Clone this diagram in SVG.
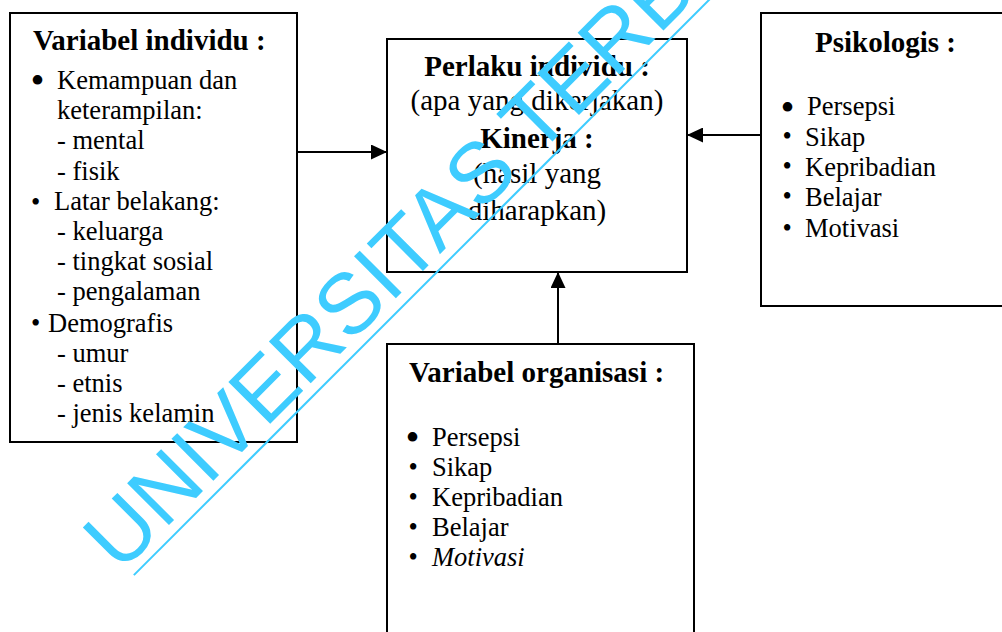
<svg xmlns="http://www.w3.org/2000/svg" width="1002" height="632" viewBox="0 0 1002 632">
  <defs>
    <style>
      .box { fill: #fff; stroke: #000; stroke-width: 2; }
      .t { font-family: "Liberation Serif", "Times New Roman", serif; fill: #000; font-size: 26.5px; }
      .b { font-weight: bold; font-size: 29px; }
      .c { font-size: 29px; text-anchor: middle; }
      .blt { font-family: "Liberation Serif", "Times New Roman", serif; fill: #000; font-size: 26.5px; }
      .bltL { font-size: 40px; }
      .wire { stroke: #000; stroke-width: 2; fill: none; marker-end: url(#arrow); }
      .wm { font-family: "Liberation Sans", Arial, sans-serif; font-size: 86px; fill: #3ECCFF; }
    </style>
    <marker id="arrow" markerUnits="userSpaceOnUse" markerWidth="16" markerHeight="15" refX="16" refY="7.5" orient="auto">
      <path d="M0,0 L16,7.5 L0,15 Z" fill="#000"/>
    </marker>
  </defs>

  <rect width="1002" height="632" fill="#fff"/>

  <!-- connectors -->
  <g id="connectors">
    <line class="wire" x1="297" y1="152" x2="387" y2="152"/>
    <line class="wire" x1="761" y1="135" x2="687" y2="135"/>
    <line class="wire" x1="558" y1="344" x2="558" y2="272"/>
  </g>

  <!-- individual variables -->
  <g id="variabel-individu">
    <rect class="box" x="10" y="13" width="287" height="429"/>
    <text class="t b" x="33" y="50">Variabel individu :</text>
    <text class="blt bltL" x="30.5" y="94">•</text>
    <text class="t" x="57" y="89">Kemampuan dan</text>
    <text class="t" x="57" y="119">keterampilan:</text>
    <text class="t" x="57" y="149">- mental</text>
    <text class="t" x="57" y="180">- fisik</text>
    <text class="blt" x="31" y="210.5">•</text>
    <text class="t" x="54" y="210">Latar belakang:</text>
    <text class="t" x="57" y="240">- keluarga</text>
    <text class="t" x="57" y="270">- tingkat sosial</text>
    <text class="t" x="57" y="300">- pengalaman</text>
    <text class="blt" x="31" y="331.5">•</text>
    <text class="t" x="48" y="332">Demografis</text>
    <text class="t" x="57" y="362">- umur</text>
    <text class="t" x="57" y="392">- etnis</text>
    <text class="t" x="57" y="422">- jenis kelamin</text>
  </g>

  <!-- behaviour / performance -->
  <g id="perlaku-individu">
    <rect class="box" x="387" y="39" width="300" height="233"/>
    <text class="t c b" x="537" y="76">Perlaku individu :</text>
    <text class="t c" x="537" y="110">(apa yang dikerjakan)</text>
    <text class="t c b" x="537" y="148">Kinerja :</text>
    <text class="t c" x="537" y="183">(hasil yang</text>
    <text class="t c" x="537" y="220">diharapkan)</text>
  </g>

  <!-- psychological variables -->
  <g id="psikologis">
    <rect class="box" x="761" y="13" width="260" height="293"/>
    <text class="t b" x="815" y="52">Psikologis :</text>
    <text class="blt bltL" x="780.5" y="121">•</text>
    <text class="t" x="807" y="115">Persepsi</text>
    <text class="blt" x="782.5" y="145">•</text>
    <text class="t" x="805" y="146">Sikap</text>
    <text class="blt" x="782.5" y="175">•</text>
    <text class="t" x="805" y="176">Kepribadian</text>
    <text class="blt" x="782.5" y="205">•</text>
    <text class="t" x="805" y="206">Belajar</text>
    <text class="blt" x="782.5" y="236.5">•</text>
    <text class="t" x="805" y="237">Motivasi</text>
  </g>

  <!-- organisational variables -->
  <g id="variabel-organisasi">
    <rect class="box" x="387" y="344" width="307" height="300"/>
    <text class="t b" x="409" y="382">Variabel organisasi :</text>
    <text class="blt bltL" x="405.5" y="451">•</text>
    <text class="t" x="432" y="446">Persepsi</text>
    <text class="blt" x="408.5" y="475.5">•</text>
    <text class="t" x="432" y="476">Sikap</text>
    <text class="blt" x="408.5" y="505.5">•</text>
    <text class="t" x="432" y="506">Kepribadian</text>
    <text class="blt" x="408.5" y="535.5">•</text>
    <text class="t" x="432" y="536">Belajar</text>
    <text class="blt" x="408.5" y="565.5">•</text>
    <text class="t" x="432" y="566" font-style="italic">Motivasi</text>
  </g>

  <!-- diagonal watermark -->
  <g id="watermark" transform="translate(120 574) rotate(-45)">
    <text class="wm" x="0" y="0">UNIVERSITAS TERBUKA</text>
    <line x1="9" y1="10.6" x2="1000" y2="10.6" stroke="#3ECCFF" stroke-width="2"/>
  </g>
</svg>
